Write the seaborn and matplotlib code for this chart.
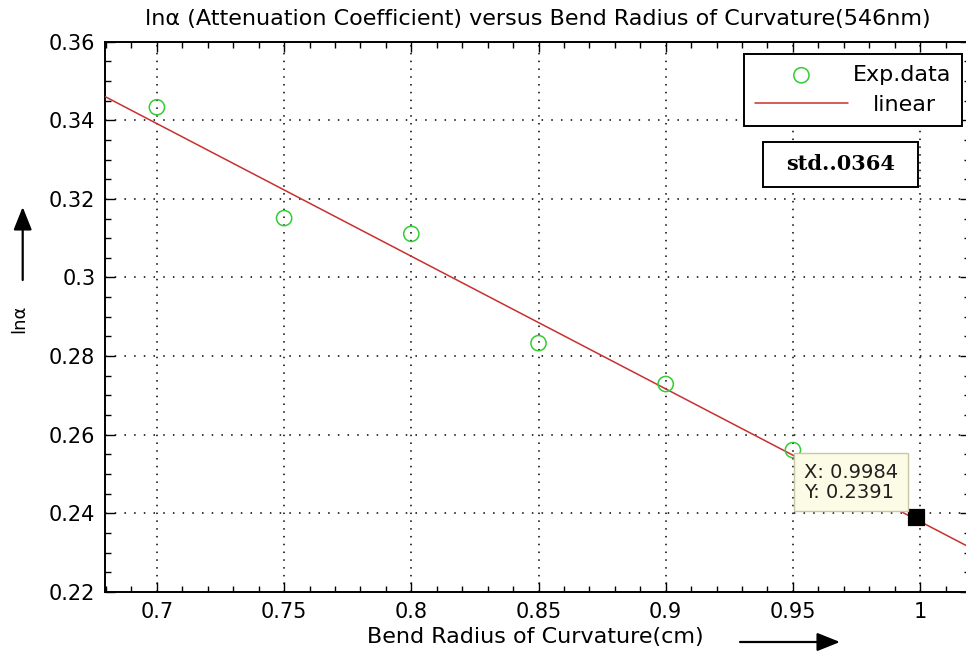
import numpy as np
import pandas as pd
import matplotlib
matplotlib.use("Agg")
import matplotlib.pyplot as plt
from matplotlib.ticker import MultipleLocator, FixedLocator
from matplotlib.patches import Rectangle
import seaborn as sns

# ---- data ----
bend_radius = [0.70, 0.75, 0.80, 0.85, 0.90, 0.95]          # cm
ln_alpha = [0.3433, 0.3151, 0.3111, 0.2833, 0.2729, 0.2561]
tip_x = 0.9984
tip_y = 0.2391
std_text = "std..0364"
x_ticks = [0.7, 0.75, 0.8, 0.85, 0.9, 0.95, 1.0]
x_tick_labels = ["0.7", "0.75", "0.8", "0.85", "0.9", "0.95", "1"]
y_ticks = [0.22, 0.24, 0.26, 0.28, 0.30, 0.32, 0.34, 0.36]
y_tick_labels = ["0.22", "0.24", "0.26", "0.28", "0.3", "0.32", "0.34", "0.36"]

sns.set_style("white")
plt.rcParams["font.family"] = ["DejaVu Sans"]
plt.rcParams.update({"text.color": "black", "axes.labelcolor": "black",
                     "xtick.color": "black", "ytick.color": "black"})

W, H = 966, 651
fig = plt.figure(figsize=(W / 100, H / 100), dpi=100)
fig.patch.set_facecolor("white")
ax_l, ax_r, ax_t, ax_b = 105, 970, 41.6, 592
AW, AH = ax_r - ax_l, ax_b - ax_t
ax = fig.add_axes([ax_l / W, 1 - ax_b / H, AW / W, AH / H])

def axx(px):
    return (px - ax_l) / AW

def axy(py):
    return (ax_b - py) / AH

xmin, xmax = 0.6796, 1.0196
df = pd.DataFrame({"x": bend_radius, "y": ln_alpha})

# linear fit of the experimental data
coef = np.polyfit(bend_radius, ln_alpha, 1)
fit_x = np.array([xmin, xmax])
fit_df = pd.DataFrame({"x": fit_x, "y": np.polyval(coef, fit_x)})

green = "#33cc33"
red = "#c83030"
sns.scatterplot(data=df, x="x", y="y", ax=ax, marker="o", s=120,
                facecolors="none", edgecolors=green, linewidth=1.1,
                label="Exp.data", zorder=4)
sns.lineplot(data=fit_df, x="x", y="y", ax=ax, color=red, lw=1.1,
             label="linear", zorder=3)

# data tip
sns.scatterplot(x=[tip_x], y=[tip_y], ax=ax, marker="s", s=120, color="black",
                edgecolor="black", legend=False, zorder=6)
ax.annotate(f"X: {tip_x}\nY: {tip_y}", xy=(tip_x, tip_y), xytext=(-13, 11),
            textcoords="offset points", ha="right", va="bottom", multialignment="left",
            fontsize=14, linespacing=1.05, zorder=7, color="#202020",
            bbox=dict(boxstyle="square,pad=0.5", fc="#fbfbe6", ec="#c8c8a8", lw=1))

ax.set_xlim(xmin, xmax)
ax.set_ylim(0.22, 0.36)
ax.xaxis.set_major_locator(FixedLocator(x_ticks))
ax.set_xticklabels(x_tick_labels)
ax.yaxis.set_major_locator(FixedLocator(y_ticks))
ax.set_yticklabels(y_tick_labels)
ax.xaxis.set_minor_locator(MultipleLocator(0.01))
ax.yaxis.set_minor_locator(MultipleLocator(0.005))
ax.tick_params(which="both", direction="in", top=True, right=True,
               bottom=True, left=True, colors="black")
ax.tick_params(which="major", length=7, width=1, labelsize=15)
ax.tick_params(which="minor", length=4, width=1)
ax.tick_params(axis="y", pad=7)
ax.tick_params(axis="x", pad=7)
for sp in ax.spines.values():
    sp.set_color("black")
    sp.set_linewidth(1.4)
ax.xaxis.grid(True, which="major", color="black", linestyle=(0, (1, 4.1)), linewidth=1.1)
ax.yaxis.grid(True, which="major", color="black", linestyle=(0, (1, 5.35)), linewidth=1.1)

ax.set_title("ln\u03b1 (Attenuation Coefficient) versus Bend Radius of Curvature(546nm)",
             fontsize=16, pad=12, color="black")
ax.set_xlabel("Bend Radius of Curvature(cm)", fontsize=16)
ax.xaxis.label.set_va("baseline")
ax.xaxis.set_label_coords(axx(535), axy(643))
ax.set_ylabel("ln\u03b1", fontsize=13)
ax.yaxis.label.set_va("center")
ax.yaxis.set_label_coords(axx(19), axy(319))

# arrows next to the axis labels
arrow_kw = dict(arrowstyle="-|>,head_length=0.7,head_width=0.28", color="black",
                lw=1.6, shrinkA=0, shrinkB=0, mutation_scale=20)
ax.annotate("", xy=(22.7 / W, 1 - 207 / H), xytext=(22.7 / W, 1 - 280 / H),
            xycoords="figure fraction", textcoords="figure fraction", arrowprops=arrow_kw)
ax.annotate("", xy=(840 / W, 1 - 642 / H), xytext=(740 / W, 1 - 642 / H),
            xycoords="figure fraction", textcoords="figure fraction", arrowprops=arrow_kw)

# legend
leg = ax.legend(loc="upper right", bbox_to_anchor=(axx(962), axy(54)),
                borderaxespad=0, fontsize=16, frameon=True, fancybox=False,
                edgecolor="black", handlelength=4.2, handletextpad=0.2,
                borderpad=0.5, labelspacing=0.43)
leg.get_frame().set_linewidth(1.4)
leg.get_frame().set_facecolor("white")
leg.get_frame().set_alpha(1)
for t in leg.get_texts():
    t.set_color("black")
fig.canvas.draw()
lt = leg.get_texts()
w0 = lt[0].get_window_extent().width
w1 = lt[1].get_window_extent().width
lt[1].set_x((w0 - w1) / 2 + 3)

# std box
ax.add_patch(Rectangle((axx(763), axy(187)), 155 / AW, 45 / AH, transform=ax.transAxes,
                       fc="white", ec="black", lw=1.4, zorder=6))
ax.text(axx(840.5), axy(164.5), std_text, transform=ax.transAxes, ha="center",
        va="center", fontsize=15, fontweight="bold", color="black",
        family=["DejaVu Serif"], zorder=7)

fig.savefig("out.png", dpi=100, facecolor="white")
